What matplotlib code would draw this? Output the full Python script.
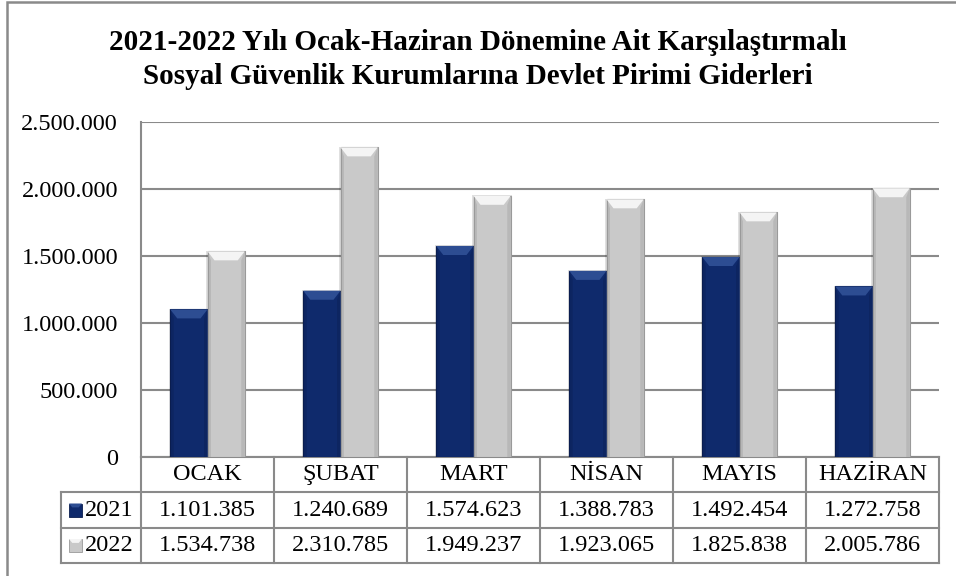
import matplotlib.pyplot as plt
import matplotlib.transforms as mtransforms
from matplotlib.patches import Rectangle, Polygon
from matplotlib.ticker import FuncFormatter

plt.rcParams['font.family'] = ['Liberation Serif', 'DejaVu Serif']

months = ['OCAK', 'ŞUBAT', 'MART', 'NİSAN', 'MAYIS', 'HAZİRAN']
years = ['2021', '2022']
values_2021 = [1101385, 1240689, 1574623, 1388783, 1492454, 1272758]
values_2022 = [1534738, 2310785, 1949237, 1923065, 1825838, 2005786]
yticks = [0, 500000, 1000000, 1500000, 2000000, 2500000]

title_lines = ['2021-2022 Yılı Ocak-Haziran Dönemine Ait Karşılaştırmalı',
               'Sosyal Güvenlik Kurumlarına Devlet Pirimi Giderleri']

# body, top bevel, edge colours per series
styles = {
    '2021': ('#0f2a6c', '#2d4d92', '#0a1d4f'),
    '2022': ('#c9c9c9', '#f4f4f4', '#9a9a9a'),
}
grid_color = '#8a8a8a'

W, H = 956, 576
fig = plt.figure(figsize=(W / 100, H / 100), dpi=100)

# plot area in pixels
px_left, px_right, px_top, px_bottom = 141, 939, 122, 457
ax = fig.add_axes([px_left / W, 1 - px_bottom / H,
                   (px_right - px_left) / W, (px_bottom - px_top) / H])
ax.set_xlim(-0.5, len(months) - 0.5)
ax.set_ylim(0, 2500000)

for s in ['top', 'right', 'bottom']:
    ax.spines[s].set_visible(False)
ax.spines['left'].set_color(grid_color)
ax.spines['left'].set_linewidth(1.5)
ax.set_yticks(yticks)
ax.yaxis.set_major_formatter(FuncFormatter(lambda v, p: f'{int(v):,}'.replace(',', '.')))
ax.tick_params(axis='y', length=0, pad=16.5, labelsize=17.5)
ax.set_xticks([])
ax.grid(axis='y', color=grid_color, linewidth=1.5)
ax.set_axisbelow(True)

bar_w = 0.28
cat_px = (px_right - px_left) / len(months)
y_per_px = 2500000 / (px_bottom - px_top)
bevel_h = 9 * y_per_px
bevel_d = 7 / cat_px


def draw_bar(x0, h, year):
    body, light, edge = styles[year]
    x1 = x0 + bar_w
    # soft shadow
    ax.add_patch(Rectangle((x0 - 0.01, 0), bar_w + 0.02, h + 0.6 * y_per_px,
                           facecolor='#000000', alpha=0.12, edgecolor='none', zorder=2))
    ax.add_patch(Rectangle((x0, 0), bar_w, h, facecolor=body,
                           edgecolor=edge, linewidth=0.8, zorder=3))
    bh = min(bevel_h, h)
    ax.add_patch(Polygon([(x0, h), (x1, h), (x1 - bevel_d, h - bh), (x0 + bevel_d, h - bh)],
                         closed=True, facecolor=light, edgecolor='none', zorder=4))
    # side facets
    ax.add_patch(Polygon([(x0, h), (x0 + bevel_d * 0.5, h - bh), (x0 + bevel_d * 0.5, 0), (x0, 0)],
                         closed=True, facecolor=edge, alpha=0.35, edgecolor='none', zorder=4))
    ax.add_patch(Polygon([(x1, h), (x1 - bevel_d * 0.5, h - bh), (x1 - bevel_d * 0.5, 0), (x1, 0)],
                         closed=True, facecolor=edge, alpha=0.35, edgecolor='none', zorder=4))


for i in range(len(months)):
    draw_bar(i - bar_w, values_2021[i], '2021')
    draw_bar(i, values_2022[i], '2022')

# data table under the plot (x in data units, y in axes units)
trans = mtransforms.blended_transform_factory(ax.transData, ax.transAxes)
ph = px_bottom - px_top


def ya(py):
    return (px_bottom - py) / ph


row_px = [457, 492, 528, 563]
x_leg = -0.5 + (61 - px_left) / cat_px
x_end = len(months) - 0.5
lk = dict(color=grid_color, linewidth=1.5, transform=trans, clip_on=False, zorder=1)

ax.plot([-0.5, x_end], [ya(row_px[0])] * 2, **lk)
for py in row_px[1:]:
    ax.plot([x_leg, x_end], [ya(py)] * 2, **lk)
for i in range(len(months) + 1):
    ax.plot([i - 0.5] * 2, [ya(row_px[0]), ya(row_px[3])], **lk)
ax.plot([x_leg] * 2, [ya(row_px[1]), ya(row_px[3])], **lk)

fs = 17.5
for i, m in enumerate(months):
    ax.text(i, ya((row_px[0] + row_px[1]) / 2), m, ha='center', va='center',
            fontsize=fs, transform=trans, clip_on=False)
for r, vals in enumerate([values_2021, values_2022]):
    yc = ya((row_px[r + 1] + row_px[r + 2]) / 2)
    for i, v in enumerate(vals):
        ax.text(i, yc, f'{v:,}'.replace(',', '.'), ha='center', va='center',
                fontsize=fs, transform=trans, clip_on=False)
    # legend key
    body, light, edge = styles[years[r]]
    kx = -0.5 + (69 - px_left) / cat_px
    kw = 13 / cat_px
    kh = 13 / ph
    ax.add_patch(Rectangle((kx, yc - kh / 2), kw, kh, facecolor=body, edgecolor=edge,
                           linewidth=0.6, transform=trans, clip_on=False))
    ax.add_patch(Polygon([(kx, yc + kh / 2), (kx + kw, yc + kh / 2),
                          (kx + kw * 0.75, yc + kh * 0.2), (kx + kw * 0.25, yc + kh * 0.2)],
                         closed=True, facecolor=light, edgecolor='none',
                         transform=trans, clip_on=False))
    ax.text(-0.5 + (85 - px_left) / cat_px, yc, years[r], ha='left', va='center',
            fontsize=fs, transform=trans, clip_on=False)

# title
fig.text(0.5, 1 - 50 / H, title_lines[0], ha='center', va='baseline',
         fontsize=21, fontweight='bold')
fig.text(0.5, 1 - 84 / H, title_lines[1], ha='center', va='baseline',
         fontsize=21, fontweight='bold')

# chart frame
fig.add_artist(Rectangle((7 / W, -0.01), 1.02, 1 - 1.5 / H + 0.01, transform=fig.transFigure,
                         facecolor='none', edgecolor='#8a8a8a', linewidth=1.8))

fig.savefig('out.png', dpi=100)
